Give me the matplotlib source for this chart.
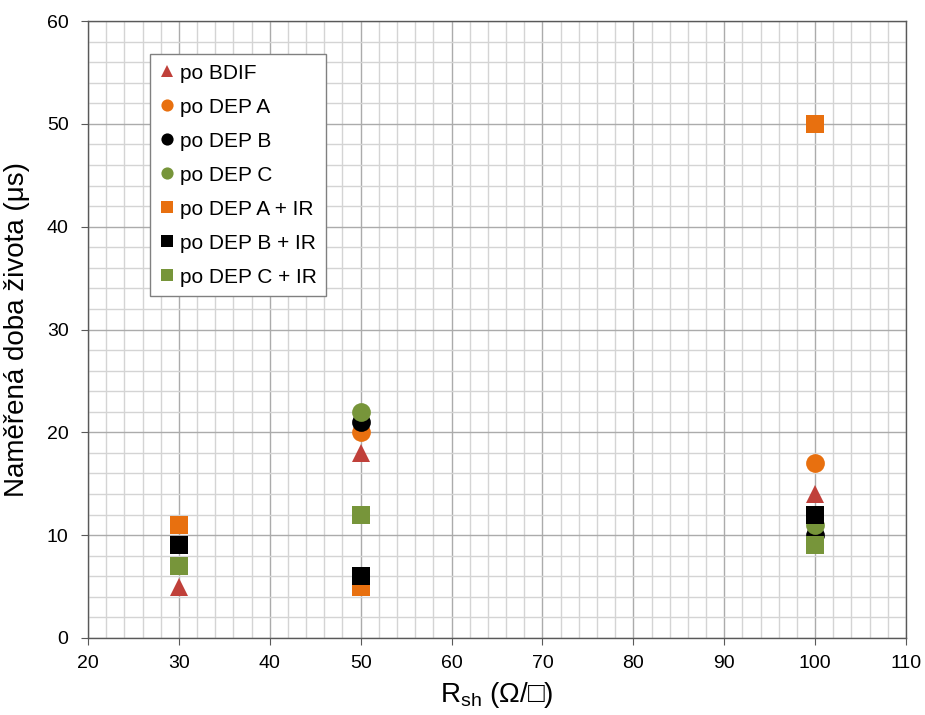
import matplotlib
matplotlib.use("Agg")
import matplotlib.pyplot as plt
from matplotlib.ticker import MultipleLocator

plt.rcParams['font.family'] = ['Liberation Sans', 'DejaVu Sans']

nan = float("nan")
x_vals = [30, 50, 100]
series_labels = ["po BDIF", "po DEP A", "po DEP B", "po DEP C",
                 "po DEP A + IR", "po DEP B + IR", "po DEP C + IR"]
bdif = [5, 18, 14]
dep_a = [nan, 20, 17]
dep_b = [nan, 21, 10]
dep_c = [nan, 22, 11]
dep_a_ir = [11, 5, 50]
dep_b_ir = [9, 6, 12]
dep_c_ir = [7, 12, 9]

series_values = [bdif, dep_a, dep_b, dep_c, dep_a_ir, dep_b_ir, dep_c_ir]
markers = ["^", "o", "o", "o", "s", "s", "s"]
colors = ["#C0403A", "#E8700F", "#000000", "#77953A", "#E8700F", "#000000", "#77953A"]

fig = plt.figure(figsize=(9.25, 7.15), dpi=100)
ax = fig.add_axes([88/925, 1 - 638/715, 818/925, 617/715])

for lab, vals, m, c in zip(series_labels, series_values, markers, colors):
    ax.plot(x_vals, vals, linestyle="none", marker=m, markersize=13.5,
            color=c, markeredgewidth=0, label=lab, zorder=3)

ax.set_xlim(20, 110)
ax.set_ylim(0, 60)
ax.xaxis.set_major_locator(MultipleLocator(10))
ax.yaxis.set_major_locator(MultipleLocator(10))
ax.xaxis.set_minor_locator(MultipleLocator(2))
ax.yaxis.set_minor_locator(MultipleLocator(2))
ax.grid(which="major", color="#ABABAB", linewidth=1.0, zorder=0)
ax.grid(which="minor", color="#D4D4D4", linewidth=1.0, zorder=0)
ax.set_axisbelow(True)

for s in ["left", "bottom", "top", "right"]:
    ax.spines[s].set_color("#595959")
    ax.spines[s].set_linewidth(1.0)

ax.tick_params(which="major", direction="out", length=5, color="#595959",
               labelsize=14)
ax.tick_params(axis="x", which="major", pad=7)
ax.tick_params(axis="y", which="major", pad=9)
ax.tick_params(which="minor", length=0)

ax.set_xlabel(r"R$_{\mathregular{sh}}$ (Ω/□)", fontsize=20, labelpad=6)
ax.set_ylabel("Naměřená doba života (μs)", fontsize=20, labelpad=12)

leg = ax.legend(loc="upper left", bbox_to_anchor=(0.0758, 0.946), fontsize=15,
                markerscale=0.65, handlelength=0.7, handletextpad=0.3,
                labelspacing=0.72, borderpad=0.45, borderaxespad=0,
                frameon=True, fancybox=False,
                framealpha=1, edgecolor="#808080")
leg.get_frame().set_linewidth(1.0)

fig.savefig("out.png", dpi=100)
